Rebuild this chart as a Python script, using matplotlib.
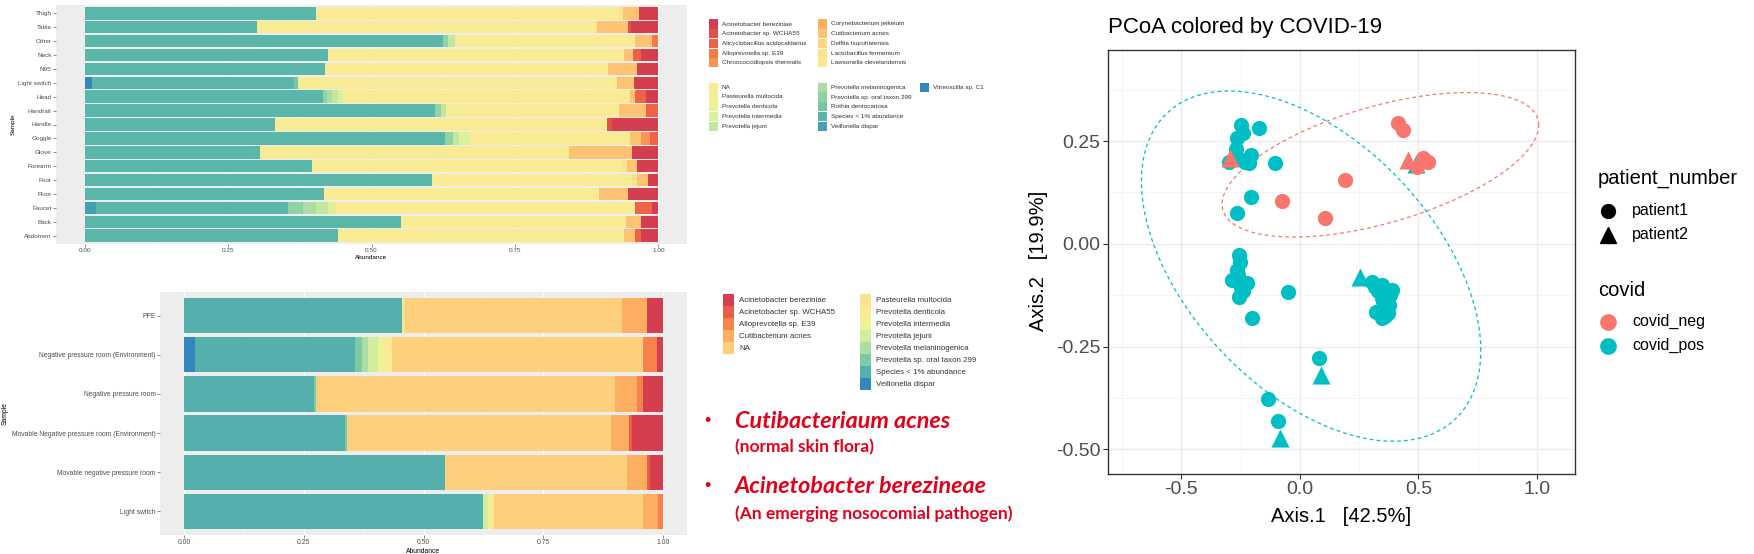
import numpy as np
import matplotlib
matplotlib.use('Agg')
import matplotlib.pyplot as plt
from matplotlib.colors import LinearSegmentedColormap
from matplotlib.patches import Rectangle
from matplotlib.lines import Line2D

plt.rcParams['font.family'] = ['Liberation Sans', 'DejaVu Sans']

W, H = 1754, 554

# ---------------- top panel: sampling sites ----------------
top_samples = ['Thigh', 'Table', 'Other', 'Neck', 'N95', 'Light switch', 'Head', 'Handrail',
               'Handle', 'Goggle', 'Glove', 'Forearm', 'Foot', 'Floor', 'Faucet', 'Back', 'Abdomen']
top_species = ['Acinetobacter bereziniae', 'Acinetobacter sp. WCHA55', 'Alicyclobacillus acidocaldarius',
               'Alloprevotella sp. E39', 'Chroococcidiopsis thermalis', 'Corynebacterium jeikeium',
               'Cutibacterium acnes', 'Delftia tsuruhatensis', 'Lactobacillus fermentum',
               'Lawsonella clevelandensis', 'NA', 'Pasteurella multocida', 'Prevotella denticola',
               'Prevotella intermedia', 'Prevotella jejuni', 'Prevotella melaninogenica',
               'Prevotella sp. oral taxon 299', 'Rothia dentocariosa', 'Species < 1% abundance',
               'Veillonella dispar', 'Vitreoscilla sp. C1']

# abundance per species, one value per sample (same order as top_samples)
t_acin_ber = [0.034, 0.048, 0, 0.031, 0.038, 0.042, 0.021, 0, 0.081, 0, 0.046, 0.037, 0.018, 0.052, 0.011, 0.030, 0.030]
t_acin_wch = [0, 0.005, 0, 0, 0, 0, 0, 0, 0.009, 0, 0, 0, 0, 0, 0, 0, 0]
t_alicyclo = [0, 0, 0, 0.014, 0, 0, 0.019, 0.021, 0, 0.015, 0, 0, 0, 0, 0.030, 0, 0.010]
t_allopre = [0, 0, 0.011, 0, 0, 0, 0, 0, 0, 0, 0, 0, 0, 0, 0, 0, 0]
t_chrooco = [0, 0, 0, 0, 0, 0, 0, 0, 0, 0.016, 0, 0, 0, 0, 0, 0, 0]
t_coryne = [0, 0, 0, 0, 0, 0, 0, 0, 0, 0, 0, 0, 0, 0, 0, 0, 0]
t_cutib = [0.027, 0.054, 0.029, 0.014, 0.050, 0.030, 0.010, 0.048, 0, 0.019, 0.110, 0.017, 0.020, 0.051, 0, 0.026, 0.019]
t_delftia = [0, 0, 0, 0, 0, 0, 0, 0, 0, 0, 0, 0, 0, 0, 0, 0, 0]
t_lacto = [0.008, 0, 0, 0, 0, 0, 0, 0, 0, 0, 0, 0.009, 0.008, 0, 0, 0, 0]
t_lawson = [0, 0, 0, 0, 0, 0, 0, 0, 0, 0, 0, 0, 0, 0, 0, 0, 0]
t_na = [0.528, 0.593, 0.314, 0.516, 0.493, 0.557, 0.499, 0.301, 0.578, 0.278, 0.539, 0.540, 0.348, 0.479, 0.522, 0.393, 0.499]
t_pasteur = [0, 0, 0, 0, 0, 0, 0, 0, 0, 0, 0, 0, 0, 0, 0, 0, 0]
t_p_dent = [0, 0, 0, 0, 0, 0, 0, 0, 0, 0, 0, 0, 0, 0, 0, 0, 0]
t_p_inter = [0, 0, 0, 0, 0, 0, 0.010, 0, 0, 0.020, 0, 0, 0, 0, 0.012, 0, 0]
t_p_jej = [0, 0, 0.012, 0, 0, 0, 0.010, 0.009, 0, 0.010, 0, 0, 0, 0, 0.022, 0, 0]
t_p_mel = [0, 0, 0, 0, 0, 0, 0.009, 0, 0, 0, 0, 0, 0, 0, 0.022, 0, 0]
t_p_oral = [0, 0, 0.009, 0, 0, 0, 0.007, 0.010, 0, 0.014, 0, 0, 0, 0, 0.026, 0, 0]
t_rothia = [0, 0, 0, 0, 0, 0.006, 0, 0, 0, 0, 0, 0, 0, 0, 0, 0, 0]
t_lt1 = [0.403, 0.300, 0.625, 0.425, 0.419, 0.353, 0.415, 0.611, 0.332, 0.628, 0.305, 0.397, 0.606, 0.418, 0.336, 0.551, 0.442]
t_veill = [0, 0, 0, 0, 0, 0, 0, 0, 0, 0, 0, 0, 0, 0, 0.019, 0, 0]
t_vitreo = [0, 0, 0, 0, 0, 0.012, 0, 0, 0, 0, 0, 0, 0, 0, 0, 0, 0]

top_values = [t_acin_ber, t_acin_wch, t_alicyclo, t_allopre, t_chrooco, t_coryne, t_cutib, t_delftia,
              t_lacto, t_lawson, t_na, t_pasteur, t_p_dent, t_p_inter, t_p_jej, t_p_mel, t_p_oral,
              t_rothia, t_lt1, t_veill, t_vitreo]

# ---------------- bottom panel: rooms ----------------
bot_samples = ['PPE', 'Negative pressure room (Environment)', 'Negative pressure room',
               'Movable Negative pressure room (Environment)', 'Movable negative pressure room', 'Light switch']
bot_species = ['Acinetobacter bereziniae', 'Acinetobacter sp. WCHA55', 'Alloprevotella sp. E39',
               'Cutibacterium acnes', 'NA', 'Pasteurella multocida', 'Prevotella denticola',
               'Prevotella intermedia', 'Prevotella jejuni', 'Prevotella melaninogenica',
               'Prevotella sp. oral taxon 299', 'Species < 1% abundance', 'Veillonella dispar']
b_acin_ber = [0.034, 0.013, 0.041, 0.065, 0.028, 0]
b_acin_wch = [0, 0, 0, 0.006, 0.006, 0]
b_allopre = [0, 0.028, 0.014, 0, 0, 0.010]
b_cutib = [0.052, 0, 0.045, 0.038, 0.042, 0.031]
b_na = [0.452, 0.525, 0.625, 0.551, 0.379, 0.312]
b_pasteur = [0.006, 0, 0, 0, 0, 0]
b_p_dent = [0, 0.016, 0, 0, 0, 0.012]
b_p_inter = [0, 0.013, 0, 0, 0, 0]
b_p_jej = [0, 0.020, 0, 0, 0, 0.010]
b_p_mel = [0, 0.013, 0, 0, 0, 0]
b_p_oral = [0, 0.015, 0.003, 0.004, 0, 0]
b_lt1 = [0.456, 0.334, 0.272, 0.336, 0.545, 0.625]
b_veill = [0, 0.023, 0, 0, 0, 0]
bot_values = [b_acin_ber, b_acin_wch, b_allopre, b_cutib, b_na, b_pasteur, b_p_dent, b_p_inter,
              b_p_jej, b_p_mel, b_p_oral, b_lt1, b_veill]

# ---------------- PCoA ----------------
# covid_pos / patient1
pos1_x = [-0.250, -0.174, -0.264, -0.271, -0.208, -0.215, -0.299, -0.104, -0.208, -0.264, -0.260, -0.240, -0.230,
          -0.257, -0.253, -0.264, -0.285, -0.222, -0.250, -0.257, -0.260, -0.240, -0.051, -0.200, 0.081, -0.135, -0.092,
          0.302, 0.345, 0.387, 0.366, 0.345, 0.366, 0.323, 0.373, 0.345, 0.330, 0.360, 0.350, 0.380,
          0.315, 0.355, 0.340, 0.375, 0.360]
pos1_y = [0.289, 0.283, 0.257, 0.232, 0.216, 0.196, 0.200, 0.197, 0.115, 0.076, 0.210, 0.270, 0.200,
          -0.027, -0.043, -0.064, -0.087, -0.096, -0.108, -0.129, -0.075, -0.115, -0.118, -0.180, -0.279, -0.378, -0.432,
          -0.092, -0.100, -0.112, -0.129, -0.131, -0.145, -0.165, -0.169, -0.181, -0.115, -0.155, -0.140, -0.125,
          -0.105, -0.120, -0.160, -0.150, -0.175]
# covid_pos / patient2
pos2_x = [0.090, -0.084, 0.253, 0.490]
pos2_y = [-0.319, -0.473, -0.080, 0.195]
# covid_neg / patient1
neg1_x = [-0.077, 0.190, 0.105, 0.415, 0.436, 0.520, 0.541, 0.492]
neg1_y = [0.105, 0.155, 0.064, 0.293, 0.277, 0.208, 0.200, 0.188]
# covid_neg / patient2
neg2_x = [-0.295, 0.457]
neg2_y = [0.208, 0.204]

covid_colors = {'covid_neg': '#F8766D', 'covid_pos': '#00BFC4'}

spectral9 = ['#D53E4F', '#F46D43', '#FDAE61', '#FEE08B', '#F8EB93', '#E6F598', '#ABDDA4', '#66C2A5', '#3288BD']


def ramp(n):
    cmap = LinearSegmentedColormap.from_list('sp', spectral9, N=1024)
    return [cmap(i / (n - 1)) for i in range(n)]


def rect(l, t, r, b):
    return [l / W, 1 - b / H, (r - l) / W, (b - t) / H]


def stacked(ax, samples, species, values, colors, fs):
    n = len(samples)
    ypos = np.arange(n)[::-1]
    ax.set_facecolor('#EDEDED')
    for g in [0, 0.25, 0.5, 0.75, 1.0]:
        ax.axvline(g, color='white', lw=0.6, zorder=0)
    for g in [0.125, 0.375, 0.625, 0.875]:
        ax.axvline(g, color='white', lw=0.3, zorder=0)
    left = np.zeros(n)
    # ggplot stacks the first level on the right, so start from the last
    for k in range(len(species) - 1, -1, -1):
        v = np.array(values[k], dtype=float)
        ax.barh(ypos, v, left=left, height=0.9, color=colors[k], lw=0, zorder=2)
        left += v
    ax.set_xlim(-0.05, 1.05)
    ax.set_ylim(-0.6, n - 0.4)
    ax.set_yticks(ypos)
    ax.set_yticklabels(samples)
    ax.set_xticks([0, 0.25, 0.5, 0.75, 1.0])
    ax.set_xticklabels(['0.00', '0.25', '0.50', '0.75', '1.00'])
    ax.tick_params(labelsize=fs, colors='#333333', labelcolor='#4D4D4D', length=2, width=0.4, pad=1.2)
    for s in ax.spines.values():
        s.set_visible(False)
    ax.set_xlabel('Abundance', fontsize=fs, labelpad=1)
    ax.set_ylabel('Sample', fontsize=fs, labelpad=2)


# robust t covariance, as MASS::cov.trob used by stat_ellipse
def cov_trob(pts, nu=5, maxit=25, tol=0.01):
    n, p = pts.shape
    loc = pts.mean(axis=0)
    w = np.ones(n)
    for it in range(maxit):
        w0 = w
        X = pts - loc
        u, d, vt = np.linalg.svd(np.sqrt(w / w.sum())[:, None] * X, full_matrices=False)
        wX = X @ vt.T @ np.diag(1 / d)
        Q = (wX ** 2).sum(axis=1)
        w = (nu + p) / (nu + Q)
        loc = (w[:, None] * pts).sum(axis=0) / w.sum()
        if np.all(np.abs(w - w0) < tol):
            break
    sX = np.sqrt(w)[:, None] * X
    return loc, sX.T @ sX / n


def ellipse(x, y, level=0.95, seg=120):
    pts = np.column_stack([x, y])
    center, cov = cov_trob(pts)
    d = len(pts) - 1
    fq = d / 2 * ((1 - level) ** (-2 / d) - 1)
    r = np.sqrt(2 * fq)
    t = np.linspace(0, 2 * np.pi, seg)
    circ = np.column_stack([np.cos(t), np.sin(t)])
    e = center + r * circ @ np.linalg.cholesky(cov).T
    return e[:, 0], e[:, 1]


fig = plt.figure(figsize=(W / 100, H / 100), dpi=100)

top_colors = ramp(len(top_species))
bot_colors = ramp(len(bot_species))

ax1 = fig.add_axes(rect(56, 5, 687, 244))
stacked(ax1, top_samples, top_species, top_values, top_colors, 4.6)

ax2 = fig.add_axes(rect(160, 292, 687, 535))
stacked(ax2, bot_samples, bot_species, bot_values, bot_colors, 4.9)

ax3 = fig.add_axes(rect(1108, 49.5, 1575, 473.5))
ax3.set_xlim(-0.809, 1.16)
ax3.set_ylim(-0.559, 0.473)
for g in [-0.5, 0, 0.5, 1.0]:
    ax3.axvline(g, color='#EBEBEB', lw=1.0, zorder=0)
for g in [-0.75, -0.25, 0.25, 0.75]:
    ax3.axvline(g, color='#F4F4F4', lw=0.6, zorder=0)
for g in [-0.5, -0.25, 0, 0.25]:
    ax3.axhline(g, color='#EBEBEB', lw=1.0, zorder=0)
for g in [-0.375, -0.125, 0.125, 0.375]:
    ax3.axhline(g, color='#F4F4F4', lw=0.6, zorder=0)

c_pos, c_neg = covid_colors['covid_pos'], covid_colors['covid_neg']
ax3.scatter(pos1_x, pos1_y, s=120, marker='o', color=c_pos, lw=0, zorder=3)
ax3.scatter(pos2_x, pos2_y, s=170, marker='^', color=c_pos, lw=0, zorder=3)
ax3.scatter(neg1_x, neg1_y, s=120, marker='o', color=c_neg, lw=0, zorder=3)
ax3.scatter(neg2_x, neg2_y, s=170, marker='^', color=c_neg, lw=0, zorder=3)

ex, ey = ellipse(neg1_x + neg2_x, neg1_y + neg2_y)
ax3.plot(ex, ey, ls=(0, (3, 2.5)), color=c_neg, lw=0.9, zorder=2)
ex, ey = ellipse(pos1_x + pos2_x, pos1_y + pos2_y)
ax3.plot(ex, ey, ls=(0, (3, 2.5)), color=c_pos, lw=0.9, zorder=2)

ax3.set_xticks([-0.5, 0.0, 0.5, 1.0])
ax3.set_xticklabels(['-0.5', '0.0', '0.5', '1.0'])
ax3.set_yticks([-0.5, -0.25, 0, 0.25])
ax3.set_yticklabels(['-0.50', '-0.25', '0.00', '0.25'])
ax3.tick_params(labelsize=14, colors='#333333', labelcolor='#4D4D4D', length=3.5, width=0.8, pad=2)
for s in ax3.spines.values():
    s.set_color('#333333')
    s.set_linewidth(1.0)

# overlay in pixel coordinates for legends and notes
ov = fig.add_axes([0, 0, 1, 1])
ov.set_xlim(0, W)
ov.set_ylim(H, 0)
ov.axis('off')

ov.text(1108, 28, 'PCoA colored by COVID-19', fontsize=16, va='center', ha='left')
ov.text(1341, 516, 'Axis.1   [42.5%]', fontsize=14.5, va='center', ha='center')
ov.text(1038, 261, 'Axis.2   [19.9%]', fontsize=14.5, va='center', ha='center', rotation=90)

# PCoA legends
ov.text(1598, 178, 'patient_number', fontsize=14.5, va='center', ha='left')
ov.add_line(Line2D([1608], [211], marker='o', color='black', ms=10, lw=0))
ov.text(1632, 211, 'patient1', fontsize=11.5, va='center', ha='left')
ov.add_line(Line2D([1608], [235], marker='^', color='black', ms=12, lw=0))
ov.text(1632, 235, 'patient2', fontsize=11.5, va='center', ha='left')
ov.text(1598, 290, 'covid', fontsize=14.5, va='center', ha='left')
for k, c in enumerate(['covid_neg', 'covid_pos']):
    yy = 321.5 + 24 * k
    ov.add_line(Line2D([1608], [yy], marker='o', color=covid_colors[c], ms=11, lw=0))
    ov.text(1632, yy, c, fontsize=11.5, va='center', ha='left')

# top legend: two blocks cut from one ggplot legend
top_cols_x = [713, 822, 924]
for k, name in enumerate(top_species):
    block = k // 10
    col = (k % 10) // 5 if block == 0 else (k - 10) // 5
    row = (k % 10) % 5 if block == 0 else (k - 10) % 5
    yy = (24 if block == 0 else 87.3) + 9.7 * row
    xx = top_cols_x[col]
    ov.add_patch(Rectangle((xx - 4.5, yy - 4.6), 9, 9.2, color=top_colors[k], lw=0))
    ov.text(xx + 9, yy, name, fontsize=4.6, va='center', ha='left', color='#333333')

# bottom legend
for k, name in enumerate(bot_species):
    col = 0 if k < 5 else 1
    row = k if k < 5 else k - 5
    yy = 300 + 12 * row
    xx = 728 if col == 0 else 865.5
    ov.add_patch(Rectangle((xx - 5.5, yy - 5.8), 11, 11.6, color=bot_colors[k], lw=0))
    ov.text(xx + 11, yy, name, fontsize=5.7, va='center', ha='left', color='#333333')

# notes
red = '#E3001B'
for yy, head, sub, ysub in [(421.7, 'Cutibacteriaum acnes', '(normal skin flora)', 446.7),
                            (486.7, 'Acinetobacter berezineae', '(An emerging nosocomial pathogen)', 513.3)]:
    ov.text(707, yy, '\u2022', fontsize=13, color=red, va='center', ha='center')
    ov.text(735, yy, head, fontsize=16.8, color=red, va='center', ha='left',
            family=['Lato', 'DejaVu Sans'], style='italic', weight='bold')
    ov.text(735, ysub, sub, fontsize=12.5, color=red, va='center', ha='left',
            family=['Lato', 'DejaVu Sans'], weight='bold')

fig.savefig('out.png', dpi=100)
